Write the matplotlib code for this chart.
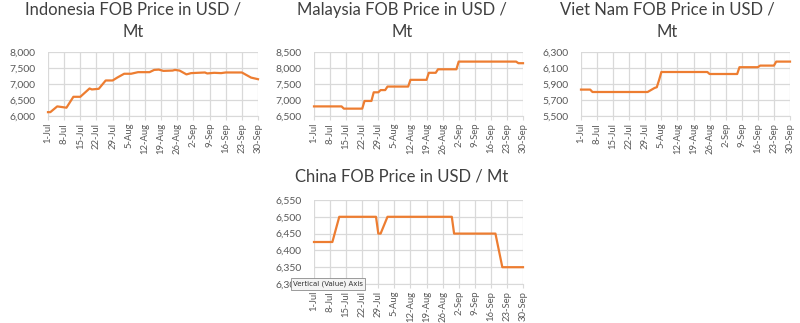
import matplotlib.pyplot as plt
import pandas as pd

# Datos (precio FOB en USD / Mt)
indonesia_dates = ["07-01", "07-02", "07-05", "07-07", "07-09", "07-12", "07-15", "07-19",
                   "07-20", "07-23", "07-26", "07-29", "07-31", "08-03", "08-06", "08-09",
                   "08-14", "08-16", "08-18", "08-20", "08-24", "08-25", "08-27", "08-30",
                   "09-01", "09-07", "09-08", "09-11", "09-14", "09-16", "09-23", "09-27",
                   "09-30"]
indonesia_prices = [6120, 6120, 6300, 6280, 6260, 6600, 6600, 6860,
                    6830, 6850, 7110, 7110, 7200, 7320, 7320, 7370,
                    7370, 7440, 7450, 7410, 7420, 7440, 7420, 7300,
                    7340, 7360, 7330, 7350, 7340, 7360, 7360, 7200,
                    7150]

malaysia_dates = ["07-01", "07-13", "07-14", "07-22", "07-23", "07-26", "07-27", "07-29",
                  "07-30", "08-01", "08-02", "08-11", "08-12", "08-19", "08-20", "08-23",
                  "08-24", "09-01", "09-02", "09-27", "09-28", "09-30"]
malaysia_prices = [6800, 6800, 6730, 6730, 6970, 6970, 7240, 7240,
                   7310, 7310, 7420, 7420, 7630, 7630, 7850, 7850,
                   7960, 7960, 8200, 8200, 8150, 8150]

vietnam_dates = ["07-01", "07-05", "07-06", "07-30", "08-02", "08-03", "08-04", "08-05",
                 "08-25", "08-26", "09-07", "09-08", "09-16", "09-17", "09-23", "09-24",
                 "09-30"]
vietnam_prices = [5830, 5830, 5800, 5800, 5850, 5860, 5950, 6050,
                  6050, 6025, 6025, 6110, 6110, 6130, 6130, 6180,
                  6180]

china_dates = ["07-01", "07-09", "07-12", "07-28", "07-29", "07-30", "08-02", "08-30",
               "08-31", "09-18", "09-21", "09-30"]
china_prices = [6425, 6425, 6500, 6500, 6450, 6450, 6500, 6500,
                6450, 6450, 6350, 6350]

tick_labels = ["1-Jul", "8-Jul", "15-Jul", "22-Jul", "29-Jul", "5-Aug", "12-Aug",
               "19-Aug", "26-Aug", "2-Sep", "9-Sep", "16-Sep", "23-Sep", "30-Sep"]

year = "2014-"
naranja = "#ED7D31"
gris = "#D9D9D9"
texto = "#595959"
fuente = "Lato"

fig = plt.figure(figsize=(8, 3.23), dpi=100)

def ejes_px(x0, y0, x1, y1):
    return fig.add_axes([x0 / 800, 1 - y1 / 323, (x1 - x0) / 800, (y1 - y0) / 323])

# (fechas, precios, titulo, caja en px, centro del titulo, limites y, paso y)
graficos = [
    (indonesia_dates, indonesia_prices, "Indonesia FOB Price in USD /\nMt",
     (48, 52, 258, 116), (133, 21), (6000, 8000), 500),
    (malaysia_dates, malaysia_prices, "Malaysia FOB Price in USD /\nMt",
     (314, 52, 523, 116), (402, 21), (6500, 8500), 500),
    (vietnam_dates, vietnam_prices, "Viet Nam FOB Price in USD /\nMt",
     (581, 52, 790, 116), (667, 21), (5500, 6300), 200),
    (china_dates, china_prices, "China FOB Price in USD / Mt",
     (314, 200, 523, 284), (402, 177), (6300, 6550), 50),
]

tick_pos = pd.date_range(year + "07-01", year + "09-30", freq="7D")

for fechas, precios, titulo, caja, centro, ylim, paso in graficos:
    ax = ejes_px(*caja)
    x = pd.to_datetime([year + f for f in fechas])
    ax.plot(x, precios, color=naranja, lw=1.6, solid_joinstyle="round", zorder=3, clip_on=False)
    ax.set_xlim(pd.Timestamp(year + "07-01"), pd.Timestamp(year + "09-30"))
    ax.set_ylim(*ylim)
    ax.set_yticks(range(ylim[0], ylim[1] + 1, paso))
    ax.set_yticklabels(["{:,}".format(v) for v in range(ylim[0], ylim[1] + 1, paso)],
                       fontsize=7.5, color=texto, family=fuente)
    ax.set_xticks(tick_pos)
    ax.set_xticklabels(tick_labels, rotation=90, fontsize=6.8, color=texto, family=fuente)
    ax.grid(True, color=gris, lw=0.9)
    ax.set_axisbelow(True)
    for s in ax.spines.values():
        s.set_visible(False)
    ax.spines["bottom"].set_visible(True)
    ax.spines["bottom"].set_color(gris)
    ax.tick_params(axis="y", length=0, pad=9)
    ax.tick_params(axis="x", length=3, color=gris, pad=2)
    fig.text(centro[0] / 800, 1 - centro[1] / 323, titulo, ha="center", va="center",
             fontsize=12, color="#404040", family=fuente, linespacing=1.5)

# Tooltip de Excel que aparece en la captura
fig.text(328 / 800, 1 - 284 / 323, "Vertical (Value) Axis", ha="center", va="center",
         fontsize=5, color="#333333", family="DejaVu Sans", zorder=10,
         bbox=dict(boxstyle="square,pad=0.35", facecolor="#F4F4F4", edgecolor="#8C8C8C", lw=0.6))

fig.savefig("out.png", dpi=100, facecolor="white")
